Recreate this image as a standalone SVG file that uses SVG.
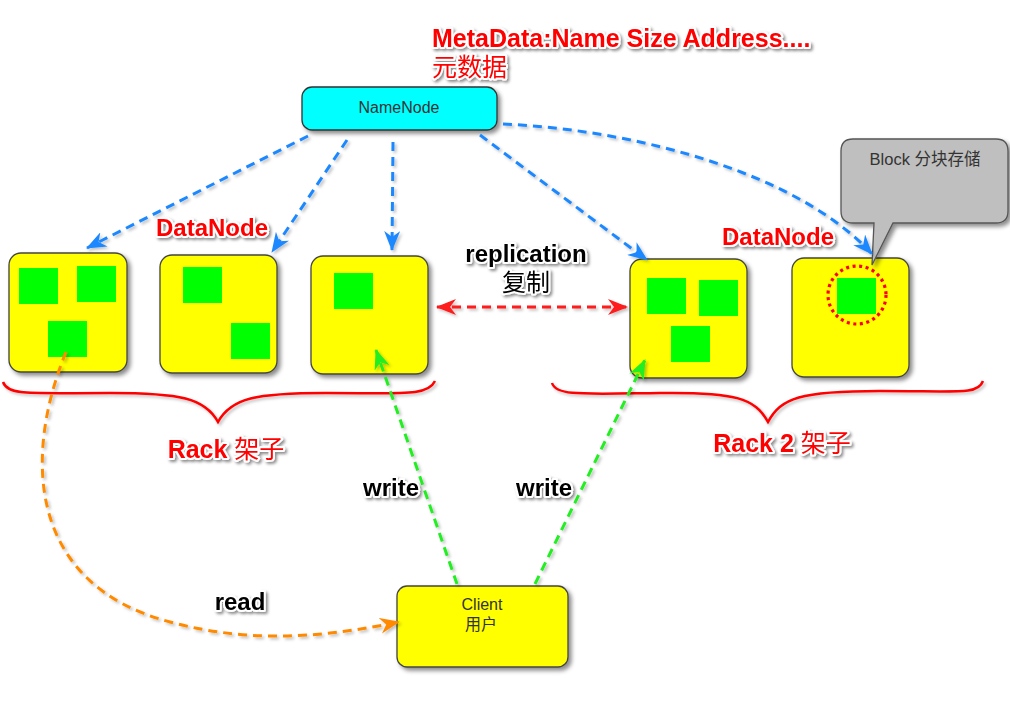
<svg xmlns="http://www.w3.org/2000/svg" width="1010" height="712" viewBox="0 0 1010 712">
<style>
.box{fill:#FFFF00;stroke:#444;stroke-width:1.3;filter:url(#sh)}
.blk{fill:#00FF00}
.t{font-family:"Liberation Sans",Arial,"Noto Sans CJK SC",sans-serif}
.node{font-size:16px;fill:#333;text-anchor:middle}
.lbl{font-size:24px;font-weight:bold;stroke:#fff;stroke-width:4;stroke-linejoin:round;paint-order:stroke;filter:url(#tsh);text-anchor:middle}
.red{fill:#FF0000}
.blk-t{fill:#000}
.cjk{font-weight:normal;font-family:"Noto Sans CJK SC",sans-serif}
.blue{fill:none;stroke:#1E88FF;stroke-width:3;stroke-dasharray:9 6;marker-end:url(#ab);filter:url(#lsh)}
.grn{fill:none;stroke:#22EE22;stroke-width:3;stroke-dasharray:9 6;marker-end:url(#ag);filter:url(#lsh)}
.org{fill:none;stroke:#FF8A00;stroke-width:3;stroke-dasharray:9 6;marker-end:url(#ao);filter:url(#lsh)}
.rd{fill:none;stroke:#FF1A1A;stroke-width:3;stroke-dasharray:9 6;marker-end:url(#ar);marker-start:url(#ar);filter:url(#lsh)}
.brace{fill:none;stroke:#FF0000;stroke-width:2.5;filter:url(#lsh)}
</style>
<defs>
<filter id="sh" x="-20%" y="-20%" width="150%" height="150%"><feDropShadow dx="3" dy="3" stdDeviation="2" flood-color="#000" flood-opacity="0.45"/></filter>
<filter id="tsh" x="-20%" y="-30%" width="140%" height="170%"><feDropShadow dx="2" dy="2" stdDeviation="1.5" flood-color="#000" flood-opacity="0.45"/></filter>
<filter id="lsh" filterUnits="userSpaceOnUse" x="0" y="0" width="1010" height="712"><feDropShadow dx="2" dy="2" stdDeviation="1.5" flood-color="#000" flood-opacity="0.25"/></filter>
<marker id="ab" viewBox="0 0 20 16" refX="19" refY="8" markerWidth="20" markerHeight="16" orient="auto" markerUnits="userSpaceOnUse"><path d="M0,0 L20,8 L0,16 L6,8 z" fill="#1E88FF"/></marker>
<marker id="ag" viewBox="0 0 20 16" refX="19" refY="8" markerWidth="20" markerHeight="16" orient="auto" markerUnits="userSpaceOnUse"><path d="M0,0 L20,8 L0,16 L6,8 z" fill="#22EE22"/></marker>
<marker id="ao" viewBox="0 0 20 16" refX="19" refY="8" markerWidth="20" markerHeight="16" orient="auto" markerUnits="userSpaceOnUse"><path d="M0,0 L20,8 L0,16 L6,8 z" fill="#FF8A00"/></marker>
<marker id="ar" viewBox="0 0 20 16" refX="19" refY="8" markerWidth="20" markerHeight="16" orient="auto-start-reverse" markerUnits="userSpaceOnUse"><path d="M0,0 L20,8 L0,16 L6,8 z" fill="#FF1A1A"/></marker>
</defs>
<rect width="1010" height="712" fill="#fff"/>

<g id="metadata-label">
<text class="t lbl red" x="432" y="47" style="text-anchor:start;font-size:25px">MetaData:Name Size Address....</text>
<text class="t lbl red cjk" x="432" y="76" style="text-anchor:start;font-size:25px;font-weight:normal">元数据</text>
</g>

<g id="namenode">
<rect x="302" y="87" width="195" height="43" rx="10" fill="#00FFFF" stroke="#333" stroke-width="1.3" filter="url(#sh)"/>
<text class="t node" x="399" y="113">NameNode</text>
</g>

<g id="datanode1">
<rect class="box" x="9" y="253" width="118" height="119" rx="12"/>
<rect class="blk" x="19" y="268" width="39" height="36"/>
<rect class="blk" x="77" y="266" width="39" height="36"/>
<rect class="blk" x="48" y="321" width="39" height="36"/>
</g>
<g id="datanode2">
<rect class="box" x="160" y="255" width="117" height="118" rx="12"/>
<rect class="blk" x="183" y="267" width="39" height="36"/>
<rect class="blk" x="231" y="323" width="39" height="36"/>
</g>
<g id="datanode3">
<rect class="box" x="311" y="256" width="117" height="118" rx="12"/>
<rect class="blk" x="334" y="273" width="39" height="36"/>
</g>
<g id="datanode4">
<rect class="box" x="630" y="259" width="117" height="119" rx="12"/>
<rect class="blk" x="647" y="278" width="39" height="36"/>
<rect class="blk" x="699" y="280" width="39" height="36"/>
<rect class="blk" x="671" y="326" width="39" height="36"/>
</g>
<g id="datanode5">
<rect class="box" x="792" y="258" width="117" height="119" rx="12"/>
<rect class="blk" x="837" y="278" width="39" height="36"/>
<circle cx="857" cy="295" r="29" fill="none" stroke="#FF0000" stroke-width="3.2" stroke-dasharray="3 3.6"/>
</g>

<g id="datanode-labels">
<text class="t lbl red" x="212" y="236">DataNode</text>
<text class="t lbl red" x="778" y="245">DataNode</text>
</g>

<g id="callout">
<path d="M853,139 H996 Q1008,139 1008,151 V211 Q1008,223 996,223 H893 L872,265 L874,223 H853 Q841,223 841,211 V151 Q841,139 853,139 Z" fill="#BFBFBF" stroke="#555" stroke-width="1.3" filter="url(#sh)"/>
<text class="t node" x="925" y="165" style="font-size:16.5px">Block 分块存储</text>
</g>

<g id="client">
<rect class="box" x="397" y="586" width="171" height="81" rx="10"/>
<text class="t node" x="482" y="610">Client</text>
<text class="t node" x="481" y="630">用户</text>
</g>

<g id="racks">
<path class="brace" d="M3,382 C8,396 30,393 110,393 C180,393 205,398 218,422 C231,398 256,393 326,393 C406,393 428,396 435,381"/>
<path class="brace" d="M552,383 C556,396 580,394 660,393 C735,392 755,398 768,422 C781,398 800,391 880,391 C960,391 978,395 983,381"/>
<text class="t lbl red" x="226" y="458" style="font-size:25px">Rack <tspan class="cjk">架子</tspan></text>
<text class="t lbl red" x="782" y="452" style="font-size:25px">Rack 2 <tspan class="cjk">架子</tspan></text>
</g>

<g id="connectors">
<path class="blue" d="M308,136 L87,248"/>
<path class="blue" d="M347,140 L272,252"/>
<path class="blue" d="M393,142 L392,250"/>
<path class="blue" d="M480,135 L647,260"/>
<path class="blue" d="M503,124 C640,130 800,175 872,254"/>
<path class="rd" d="M437,307 L627,307"/>
<path class="grn" d="M457,584 L376,350"/>
<path class="grn" d="M535,584 L645,360"/>
<path class="org" d="M66,352 C22,460 30,585 170,622 C255,645 330,636 399,622"/>
</g>

<g id="connector-labels">
<text class="t lbl blk-t" x="526" y="262">replication</text>
<text class="t lbl blk-t cjk" x="526" y="291" style="font-size:24px;font-weight:normal">复制</text>
<text class="t lbl blk-t" x="391" y="496">write</text>
<text class="t lbl blk-t" x="544" y="496">write</text>
<text class="t lbl blk-t" x="240" y="610">read</text>
</g>
</svg>
